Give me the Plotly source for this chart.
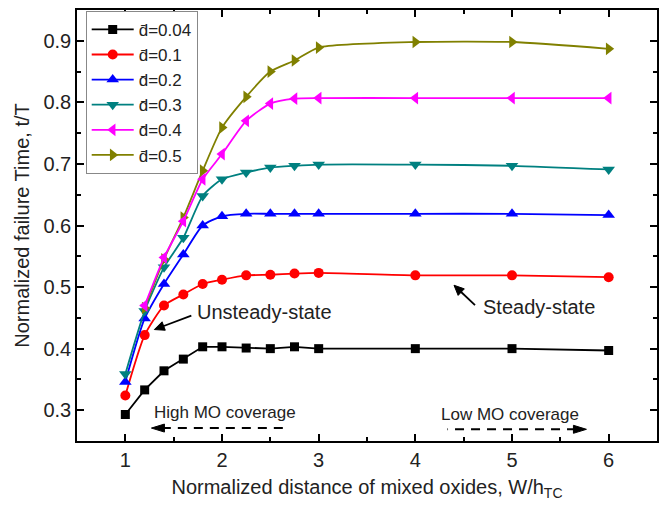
import math
import plotly.graph_objects as go

x_full = [1.0, 1.2, 1.4, 1.6, 1.8, 2.0, 2.25, 2.5, 2.75, 3.0, 4.0, 5.0, 6.0]
x_late = [1.2, 1.4, 1.6, 1.8, 2.0, 2.25, 2.5, 2.75, 3.0, 4.0, 5.0, 6.0]

d004 = [0.293, 0.333, 0.364, 0.383, 0.403, 0.403, 0.401, 0.400, 0.403, 0.400, 0.400, 0.400, 0.397]
d01 = [0.324, 0.422, 0.470, 0.488, 0.505, 0.512, 0.519, 0.520, 0.522, 0.523, 0.519, 0.519, 0.516]
d02 = [0.346, 0.449, 0.505, 0.553, 0.600, 0.615, 0.619, 0.619, 0.619, 0.619, 0.619, 0.619, 0.617]
d03 = [0.359, 0.461, 0.532, 0.580, 0.648, 0.675, 0.686, 0.694, 0.697, 0.699, 0.699, 0.697, 0.691]
d04 = [0.470, 0.548, 0.607, 0.675, 0.716, 0.770, 0.798, 0.806, 0.807, 0.807, 0.807, 0.807]
d05 = [0.466, 0.545, 0.613, 0.689, 0.759, 0.809, 0.850, 0.868, 0.889, 0.898, 0.898, 0.887]

labels = ["d\u0304=0.04", "d\u0304=0.1", "d\u0304=0.2", "d\u0304=0.3", "d\u0304=0.4", "d\u0304=0.5"]

FONT = "Liberation Sans, Arial, sans-serif"

series = [
    (x_full, d004, labels[0], "#000000", "square", 9, "linear", 1),
    (x_full, d01, labels[1], "#FF0000", "circle", 10, "spline", 2),
    (x_full, d02, labels[2], "#0000FF", "triangle-up", 11, "spline", 3),
    (x_full, d03, labels[3], "#008080", "triangle-down", 11, "spline", 4),
    (x_late, d05, labels[5], "#808000", "triangle-right", 11, "spline", 6),
    (x_late, d04, labels[4], "#FF00FF", "triangle-left", 11, "spline", 5),
]

fig = go.Figure()
for xs, ys, name, col, sym, sz, shape, rank in series:
    line = dict(color=col, width=1.8, shape=shape)
    if shape == "spline":
        line["smoothing"] = 0.6
    fig.add_trace(go.Scatter(
        x=xs, y=ys, name=name, mode="lines+markers",
        line=line, marker=dict(symbol=sym, size=sz, color=col),
        legendrank=rank,
    ))

axis_common = dict(
    showline=True, linecolor="#000", linewidth=1.5, mirror="allticks",
    ticks="inside", ticklen=7, tickwidth=1.5, tickcolor="#000",
    showgrid=False, zeroline=False,
    tickfont=dict(family=FONT, size=20, color="#222"),
)

fig.update_xaxes(
    range=[0.5, 6.5], dtick=1, tick0=1,
    minor=dict(dtick=0.5, ticks="inside", ticklen=4, tickwidth=1.5, tickcolor="#000"),
    title=dict(text="Normalized distance of mixed oxides, W/h<sub>TC</sub>",
               font=dict(family=FONT, size=20, color="#222"), standoff=10),
    **axis_common,
)
fig.update_yaxes(
    range=[0.25, 0.95], dtick=0.1, tick0=0.3, tickformat=".1f",
    minor=dict(dtick=0.05, ticks="inside", ticklen=4, tickwidth=1.5, tickcolor="#000"),
    title=dict(text="Normalized failure Time, t/T",
               font=dict(family=FONT, size=20, color="#222"), standoff=8),
    **axis_common,
)


def arrow(xh, yh, dx, dy, width=1.8, dash="solid", head_len=10, head_half=4.5):
    """Arrow with head at data point (xh, yh); tail offset (dx, dy) in pixels (y up)."""
    L = math.hypot(dx, dy)
    ux, uy = dx / L, dy / L
    px, py = -uy, ux
    bx, by = ux * head_len, uy * head_len
    fig.add_shape(type="line", xref="x", yref="y",
                  xsizemode="pixel", ysizemode="pixel", xanchor=xh, yanchor=yh,
                  x0=bx * 0.8, y0=by * 0.8, x1=dx, y1=dy,
                  line=dict(color="#000", width=width, dash=dash))
    p1 = (bx + px * head_half, by + py * head_half)
    p2 = (bx - px * head_half, by - py * head_half)
    path = f"M 0 0 L {p1[0]:.2f} {p1[1]:.2f} L {p2[0]:.2f} {p2[1]:.2f} Z"
    fig.add_shape(type="path", xref="x", yref="y",
                  xsizemode="pixel", ysizemode="pixel", xanchor=xh, yanchor=yh,
                  path=path, fillcolor="#000", line=dict(color="#000", width=1))


ann_font = dict(family=FONT, size=20, color="#222")
fig.add_annotation(x=2.44, y=0.459, text="Unsteady-state", showarrow=False, font=ann_font)
arrow(1.30, 0.431, 37, 14)
fig.add_annotation(x=5.28, y=0.467, text="Steady-state", showarrow=False, font=ann_font)
arrow(4.40, 0.503, 21, -20)

small_font = dict(family=FONT, size=17, color="#222")
fig.add_annotation(x=2.03, y=0.297, text="High MO coverage", showarrow=False, font=small_font)
fig.add_annotation(x=4.98, y=0.293, text="Low MO coverage", showarrow=False, font=small_font)

arrow(1.27, 0.271, 136, 0, width=2, dash="9px,7px", head_len=13, head_half=4)
arrow(5.77, 0.269, -139, 0, width=2, dash="9px,7px", head_len=13, head_half=4)

fig.update_layout(
    width=667, height=505,
    margin=dict(l=77, r=8, t=10, b=64),
    paper_bgcolor="white", plot_bgcolor="white",
    font=dict(family=FONT, size=20, color="#222"),
    legend=dict(x=0.015, y=0.998, xanchor="left", yanchor="top",
                bordercolor="#888", borderwidth=1, bgcolor="white",
                font=dict(family=FONT, size=17, color="#222"),
                tracegroupgap=0, itemwidth=42),
    showlegend=True,
)

fig.write_html("out.html")
